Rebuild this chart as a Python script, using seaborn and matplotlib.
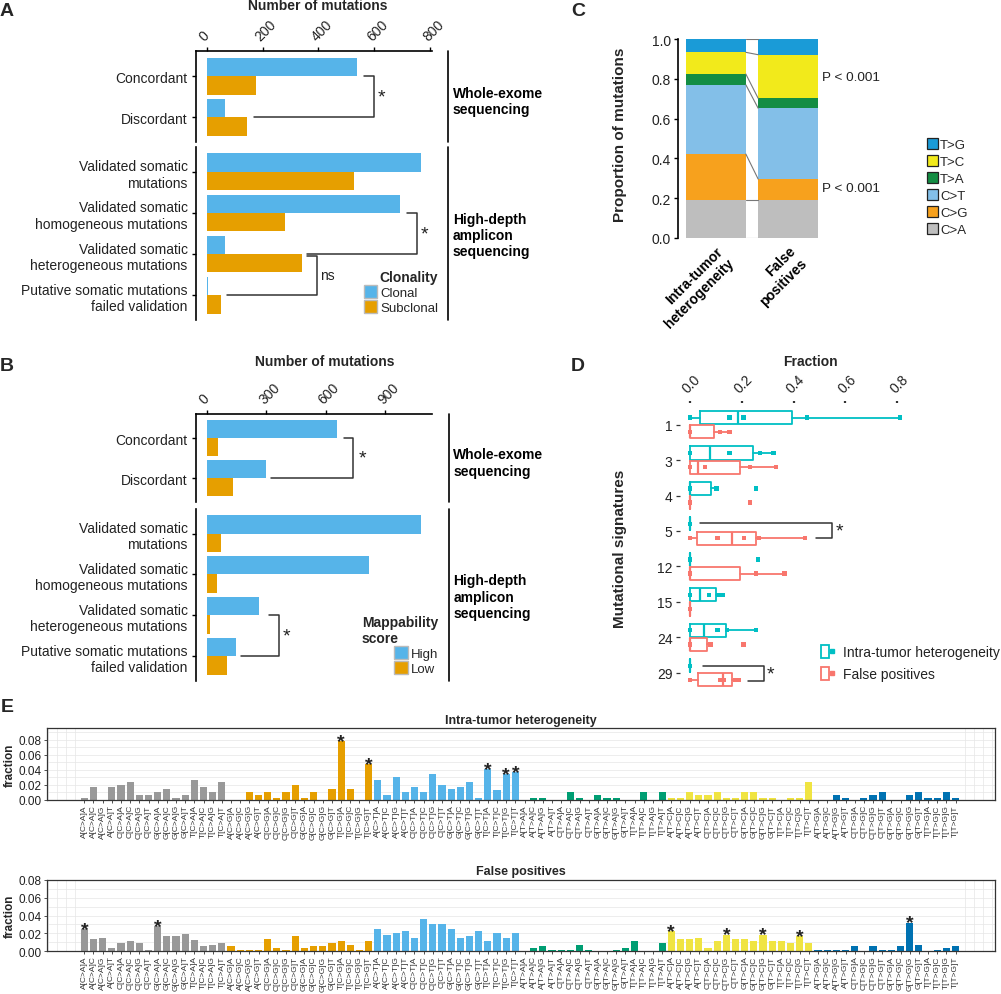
import numpy as np
import pandas as pd
import matplotlib
matplotlib.use("Agg")
import matplotlib.pyplot as plt
from matplotlib.patches import Patch
from matplotlib.lines import Line2D
from matplotlib.legend_handler import HandlerTuple
import seaborn as sns

# ---------------- data ----------------
# A / B : counts per category
wes_cats = ["Concordant", "Discordant"]
amp_cats = ["Validated somatic\nmutations",
            "Validated somatic\nhomogeneous mutations",
            "Validated somatic\nheterogeneous mutations",
            "Putative somatic mutations\nfailed validation"]
clonality = ["Clonal", "Subclonal"]
a_clonal = [537, 64, 767, 691, 67, 4]
a_subclonal = [177, 146, 528, 279, 341, 51]
mappability = ["High", "Low"]
b_high = [656, 298, 1083, 818, 264, 150]
b_low = [59, 133, 71, 54, 17, 104]

# C : mutation spectrum proportions
spectrum = ["C>A", "C>G", "C>T", "T>A", "T>C", "T>G"]
c_groups = ["Intra-tumor\nheterogeneity", "False\npositives"]
c_ith = [0.191, 0.231, 0.348, 0.054, 0.109, 0.067]
c_fp = [0.191, 0.105, 0.356, 0.050, 0.219, 0.079]

# D : signature fractions (box stats: whislo, q1, med, q3, whishi)
signatures = ["1", "3", "4", "5", "12", "15", "24", "29"]
d_groups = ["Intra-tumor heterogeneity", "False positives"]
d_ith_box = [(0, 0.039, 0.187, 0.395, 0.81), (0, 0, 0.077, 0.245, 0.329),
             (0, 0, 0, 0.08, 0.103), (0, 0, 0, 0, 0), (0, 0, 0, 0, 0),
             (0, 0, 0.039, 0.099, 0.129), (0, 0, 0.055, 0.139, 0.258), (0, 0, 0, 0, 0)]
d_fp_box = [(0, 0, 0, 0.093, 0.152), (0, 0, 0.030, 0.194, 0.335),
            (0, 0, 0, 0, 0), (0, 0.028, 0.164, 0.255, 0.445),
            (0, 0, 0, 0.194, 0.368), (0, 0, 0, 0, 0),
            (0, 0, 0, 0.065, 0.08), (0, 0.030, 0.129, 0.161, 0.191)]
d_ith_pts = [[0, 0.152, 0.206, 0.452, 0.81], [0, 0.152, 0.271, 0.323], [0, 0.103, 0.254],
             [0], [0, 0.262], [0, 0.074, 0.11, 0.126], [0, 0.107, 0.142, 0.254], [0]]
d_fp_pts = [[0, 0.116, 0.152], [0, 0.058, 0.232, 0.332], [0, 0.232],
            [0, 0.107, 0.209, 0.267, 0.443], [0, 0.254, 0.365], [0],
            [0, 0.08, 0.206], [0, 0.116, 0.129, 0.174, 0.187]]

# E : trinucleotide context fractions
contexts = [f"{l}[{mt}]{r}" for mt in spectrum for l in "ACGT" for r in "ACGT"]
ctx_type = [mt for mt in spectrum for _ in range(16)]
e_ith = [0.003, 0.017, 0.0, 0.017, 0.020, 0.024, 0.007, 0.007, 0.010, 0.014, 0.003, 0.007, 0.027, 0.017, 0.010, 0.024,
         0.0, 0.0, 0.010, 0.007, 0.010, 0.003, 0.010, 0.020, 0.003, 0.010, 0.0, 0.014, 0.078, 0.014, 0.0, 0.048,
         0.027, 0.007, 0.031, 0.010, 0.017, 0.010, 0.034, 0.020, 0.014, 0.017, 0.024, 0.003, 0.041, 0.013, 0.034, 0.037,
         0.0, 0.003, 0.003, 0.0, 0.0, 0.010, 0.003, 0.0, 0.007, 0.003, 0.003, 0.0, 0.0, 0.010, 0.0, 0.010,
         0.003, 0.003, 0.010, 0.007, 0.007, 0.010, 0.003, 0.003, 0.010, 0.010, 0.003, 0.003, 0.0, 0.003, 0.003, 0.024,
         0.0, 0.0, 0.007, 0.003, 0.0, 0.003, 0.007, 0.010, 0.0, 0.0, 0.007, 0.010, 0.003, 0.003, 0.010, 0.003]
e_fp = [0.0246, 0.0134, 0.0149, 0.0034, 0.009, 0.011, 0.009, 0.002, 0.028, 0.017, 0.017, 0.019, 0.013, 0.0056, 0.0075, 0.0093,
        0.0056, 0.0015, 0.0015, 0.0015, 0.0134, 0.0037, 0.0015, 0.0167, 0.0037, 0.0056, 0.0056, 0.0093, 0.011, 0.0075, 0.0015, 0.011,
        0.0246, 0.0186, 0.0205, 0.0227, 0.0149, 0.0357, 0.030, 0.030, 0.0246, 0.0149, 0.0167, 0.0227, 0.011, 0.0205, 0.0149, 0.0205,
        0.0, 0.0037, 0.0056, 0.0019, 0.0019, 0.0019, 0.0075, 0.0019, 0.0, 0.0, 0.0019, 0.0037, 0.011, 0.0, 0.0, 0.0093,
        0.0227, 0.0134, 0.0134, 0.0149, 0.0037, 0.011, 0.0186, 0.0134, 0.0134, 0.011, 0.0186, 0.011, 0.011, 0.0093, 0.0167, 0.0093,
        0.0019, 0.0019, 0.0019, 0.0019, 0.0056, 0.0, 0.0056, 0.0019, 0.0019, 0.0056, 0.032, 0.0075, 0.0, 0.0019, 0.0037, 0.0056]
e_ith_stars = ["T[C>G]A", "T[C>G]T", "T[C>T]A", "T[C>T]G", "T[C>T]T"]
e_fp_stars = ["A[C>A]A", "G[C>A]A", "A[T>C]A", "C[T>C]G", "G[T>C]G", "T[T>C]G", "G[T>G]G"]

# ---------------- style ----------------
sns.set_style("white")
plt.rcParams["font.family"] = ["Liberation Sans", "DejaVu Sans"]
TXT = "#222222"
BLUE, ORANGE = "#56B4E9", "#E69F00"
c_colors = ["#bebebe", "#f7a11d", "#83bfe8", "#138d43", "#f2ea1b", "#1a9bd7"]
e_colors = {"C>A": "#999999", "C>G": "#E69F00", "C>T": "#56B4E9",
            "T>A": "#009E73", "T>C": "#F0E442", "T>G": "#0072B2"}
d_colors = ["#00BFC4", "#F8766D"]

W, H = 1001, 995
fig = plt.figure(figsize=(W / 100, H / 100), dpi=100)


def add_ax(l, t, r, b):
    return fig.add_axes([l / W, 1 - b / H, (r - l) / W, (b - t) / H])


def ftext(x, y, s, **kw):
    return fig.text(x / W, 1 - y / H, s, **kw)


def bracket(ax, pts):
    xs, ys = zip(*pts)
    ax.plot(xs, ys, color="#333333", lw=1.1, clip_on=False, zorder=5)


# ---------------- A / B ----------------
def count_panel(top, bot, v1, v2, names, xticks):
    df = pd.DataFrame({"category": (wes_cats + amp_cats) * 2,
                       "group": [names[0]] * 6 + [names[1]] * 6,
                       "count": list(v1) + list(v2)})
    vmax = max(v1 + v2)
    for ax, cats in ((top, wes_cats), (bot, amp_cats)):
        sub = df[df["category"].isin(cats)]
        sns.barplot(data=sub, x="count", y="category", hue="group", order=cats,
                    hue_order=names, palette=[BLUE, ORANGE], orient="h", width=0.9,
                    saturation=1, errorbar=None, legend=False, linewidth=0, ax=ax)
        ax.set_xlim(-0.05 * vmax, 1.05 * vmax)
        ax.set_ylim(len(cats) - 0.4, -0.6)
        ax.set_xlabel("")
        ax.set_ylabel("")
        for s in ("right", "bottom", "top"):
            ax.spines[s].set_visible(False)
        ax.spines["left"].set_color("black")
        ax.spines["left"].set_linewidth(1.2)
        ax.tick_params(axis="y", length=3, width=1, color="black", pad=3,
                       labelsize=10, labelcolor=TXT, left=True)
        ax.tick_params(axis="x", bottom=False, labelbottom=False)
        ax.plot([1.07, 1.07], [0, 1], transform=ax.transAxes, color="black",
                lw=1.2, clip_on=False)
    top.spines["top"].set_visible(True)
    top.spines["top"].set_color("black")
    top.spines["top"].set_linewidth(1.2)
    top.xaxis.tick_top()
    top.set_xticks(xticks)
    top.set_xticklabels([str(t) for t in xticks], rotation=45, ha="left",
                        va="bottom", rotation_mode="anchor")
    top.tick_params(axis="x", top=True, labeltop=True, length=3, width=1,
                    color="black", labelsize=10, labelcolor=TXT, pad=3)
    top.text(1.091, 0.45, "Whole-exome\nsequencing", transform=top.transAxes,
             fontsize=10, fontweight="bold", ha="left", va="center", color="black")
    bot.text(1.091, 0.49, "High-depth\namplicon\nsequencing", transform=bot.transAxes,
             fontsize=10, fontweight="bold", ha="left", va="center", color="black")


axA1 = add_ax(196, 52.3, 431.5, 143.3)
axA2 = add_ax(196, 148.3, 431.5, 320.7)
count_panel(axA1, axA2, a_clonal, a_subclonal, clonality, [0, 200, 400, 600, 800])
bracket(axA1, [(563.6, 0), (599.4, 0), (599.4, 1), (169.6, 1)])
axA1.text(627, 0.5, "*", fontsize=14, ha="center", va="center", color="#222222")
bracket(axA2, [(718.8, 1), (752.2, 1), (752.2, 2), (360.6, 2)])
axA2.text(778.5, 1.5, "*", fontsize=14, ha="center", va="center", color="#222222")
bracket(axA2, [(360.6, 2.05), (396.4, 2.05), (396.4, 3), (71.6, 3)])
axA2.text(432, 2.5, "ns", fontsize=10, ha="center", va="center", color="#222222")
ftext(318, 6, "Number of mutations", fontsize=10, fontweight="bold", ha="center", va="center")
fig.legend([Patch(facecolor=BLUE, edgecolor="#bbbbbb"), Patch(facecolor=ORANGE, edgecolor="#bbbbbb")],
           clonality, title="Clonality", loc="lower right",
           bbox_to_anchor=(438 / W, 1 - 315 / H), frameon=False, fontsize=9.5,
           title_fontproperties={"weight": "bold", "size": 10}, alignment="right",
           handlelength=1.05, handleheight=1.05, handletextpad=0.2, labelspacing=0.1,
           borderpad=0, borderaxespad=0)

axB1 = add_ax(196, 415, 432, 503.3)
axB2 = add_ax(196, 510, 432, 681.7)
count_panel(axB1, axB2, b_high, b_low, mappability, [0, 300, 600, 900])
bracket(axB1, [(693, 0), (740, 0), (740, 1), (326, 1)])
axB1.text(786, 0.5, "*", fontsize=14, ha="center", va="center", color="#222222")
bracket(axB2, [(314.6, 2), (365, 2), (365, 3), (171.6, 3)])
axB2.text(403.8, 2.5, "*", fontsize=14, ha="center", va="center", color="#222222")
ftext(325, 362, "Number of mutations", fontsize=10, fontweight="bold", ha="center", va="center")
fig.legend([Patch(facecolor=BLUE, edgecolor="#bbbbbb"), Patch(facecolor=ORANGE, edgecolor="#bbbbbb")],
           mappability, title="Mappability\nscore", loc="lower right",
           bbox_to_anchor=(438 / W, 1 - 676 / H), frameon=False, fontsize=9.5,
           title_fontproperties={"weight": "bold", "size": 10}, alignment="right",
           handlelength=1.05, handleheight=1.05, handletextpad=0.2, labelspacing=0.1,
           borderpad=0, borderaxespad=0)

# ---------------- C ----------------
axC = add_ax(678, 40, 826, 239)
bw = 0.83
cum_ith = np.concatenate([[0], np.cumsum(c_ith)])
cum_fp = np.concatenate([[0], np.cumsum(c_fp)])
for k, name in enumerate(spectrum):
    axC.bar([0, 1], [c_ith[k], c_fp[k]], bottom=[cum_ith[k], cum_fp[k]], width=bw,
            color=c_colors[k], edgecolor="none", label=name)
for k in range(len(cum_ith)):
    axC.plot([bw / 2, 1 - bw / 2], [min(cum_ith[k], 1), min(cum_fp[k], 1)],
             color="#777777", lw=0.8)
axC.set_xlim(-0.52, 1.52)
axC.set_ylim(0, 1.0)
axC.set_yticks(np.arange(0, 1.01, 0.2))
axC.set_yticklabels([f"{t:.1f}" for t in np.arange(0, 1.01, 0.2)])
axC.set_xticks([0, 1])
axC.set_xticklabels(c_groups, rotation=45, ha="right", va="top",
                    rotation_mode="anchor", fontweight="bold", fontsize=10)
for s in ("right", "bottom", "top"):
    axC.spines[s].set_visible(False)
axC.spines["left"].set_color("black")
axC.spines["left"].set_linewidth(1.2)
axC.tick_params(axis="y", left=True, length=3, width=1, color="black",
                labelsize=10, labelcolor=TXT, pad=2)
axC.tick_params(axis="x", length=0, pad=4, labelcolor="black")
axC.text(1.47, 0.807, "P < 0.001", fontsize=9.7, ha="left", va="center", color=TXT)
axC.text(1.47, 0.25, "P < 0.001", fontsize=9.7, ha="left", va="center", color=TXT)
ftext(620, 135, "Proportion of mutations", fontsize=11, fontweight="bold",
      rotation=90, ha="center", va="center")
fig.legend([Patch(facecolor=c_colors[k], edgecolor="#222222", lw=0.9) for k in range(5, -1, -1)],
           spectrum[::-1], loc="upper left", bbox_to_anchor=(927 / W, 1 - 139 / H),
           frameon=False, fontsize=9.5, handlelength=0.85, handleheight=0.85,
           handletextpad=0.15, labelspacing=0.32, borderpad=0, borderaxespad=0)

# ---------------- D ----------------
axD = add_ax(679.6, 404.4, 910, 695)
rows = []
for i, sig in enumerate(signatures):
    for v in d_ith_pts[i]:
        rows.append((sig, d_groups[0], v))
    for v in d_fp_pts[i]:
        rows.append((sig, d_groups[1], v))
d_df = pd.DataFrame(rows, columns=["signature", "group", "fraction"])
sns.stripplot(data=d_df, x="fraction", y="signature", hue="group", order=signatures,
              hue_order=d_groups, palette=d_colors, dodge=True, jitter=False,
              marker="s", size=3.2, linewidth=0, legend=False, ax=axD, zorder=4)
for boxes, col, off in ((d_ith_box, d_colors[0], -0.2), (d_fp_box, d_colors[1], 0.2)):
    stats = [dict(whislo=b[0], q1=b[1], med=b[2], q3=b[3], whishi=b[4], fliers=[]) for b in boxes]
    axD.bxp(stats, positions=[i + off for i in range(len(signatures))], widths=0.37,
            orientation="horizontal", showfliers=False, showcaps=False, manage_ticks=False,
            boxprops=dict(color=col, lw=1.3), medianprops=dict(color=col, lw=1.6),
            whiskerprops=dict(color=col, lw=1.3))
axD.set_xlim(-0.04, 0.849)
axD.set_ylim(len(signatures) - 0.4, -0.6)
axD.set_xlabel("")
axD.set_ylabel("")
for s in axD.spines.values():
    s.set_visible(False)
axD.xaxis.tick_top()
dticks = [0, 0.2, 0.4, 0.6, 0.8]
axD.set_xticks(dticks)
axD.set_xticklabels([f"{t:.1f}" for t in dticks], rotation=45, ha="left",
                    va="bottom", rotation_mode="anchor")
axD.tick_params(axis="x", top=True, bottom=False, labeltop=True, labelbottom=False,
                length=1.2, width=1.6, color="#333333", labelsize=10, labelcolor=TXT, pad=5)
axD.tick_params(axis="y", left=True, length=3, width=0.9, color="#333333",
                labelsize=10, labelcolor=TXT, pad=2)
bracket(axD, [(0.039, 2.77), (0.548, 2.77), (0.548, 3.2), (0.488, 3.2)])
axD.text(0.578, 3.0, "*", fontsize=14, ha="center", va="center", color="#222222")
bracket(axD, [(0.052, 6.8), (0.284, 6.8), (0.284, 7.24), (0.223, 7.24)])
axD.text(0.31, 7.04, "*", fontsize=14, ha="center", va="center", color="#222222")
ftext(810, 362, "Fraction", fontsize=10, fontweight="bold", ha="center", va="center")
ftext(620, 549, "Mutational signatures", fontsize=11, fontweight="bold",
      rotation=90, ha="center", va="center")
d_handles = [(Patch(facecolor="white", edgecolor=c, lw=1.3),
              Line2D([], [], marker="s", color=c, ls="", ms=3.5)) for c in d_colors]
fig.legend(d_handles, d_groups, loc="upper left", bbox_to_anchor=(821 / W, 1 - 646 / H),
           frameon=False, fontsize=10, handlelength=1.1, handleheight=1.1,
           handletextpad=0.5, labelspacing=0.55, borderpad=0, borderaxespad=0,
           handler_map={tuple: HandlerTuple(ndivide=None)}, labelcolor=TXT)


# ---------------- E ----------------
def spectrum_panel(ax, values, stars, title, ymax):
    df = pd.DataFrame({"context": contexts, "fraction": values, "type": ctx_type})
    sns.barplot(data=df, x="context", y="fraction", hue="type", order=contexts,
                hue_order=spectrum, palette=e_colors, dodge=False, width=0.78,
                saturation=1, errorbar=None, legend=False, linewidth=0, ax=ax)
    for lab in stars:
        i = contexts.index(lab)
        ax.annotate("*", (i, values[i]), xytext=(0, -3.5), textcoords="offset points",
                    ha="center", va="baseline", fontsize=14, fontweight="bold",
                    color="#222222")
    ax.set_xlim(-4.1, 99.3)
    ax.set_ylim(0, ymax)
    ax.set_yticks([0, 0.02, 0.04, 0.06, 0.08])
    ax.set_yticklabels(["0.00", "0.02", "0.04", "0.06", "0.08"])
    ax.set_yticks(np.arange(0.01, ymax, 0.02), minor=True)
    ax.set_xticks(np.arange(-4, 100), minor=True)
    ax.set_axisbelow(True)
    ax.grid(which="minor", axis="x", color="#e6e6e6", lw=0.5)
    ax.grid(which="both", axis="y", color="#e6e6e6", lw=0.5)
    ax.tick_params(axis="x", which="major", rotation=90, labelsize=6, labelcolor="#333333",
                   length=2, width=0.6, color="#333333", pad=1, bottom=True)
    ax.tick_params(axis="y", which="major", labelsize=8.5, labelcolor=TXT, length=2,
                   width=0.6, color="#333333", pad=1.5, left=True)
    ax.tick_params(which="minor", length=0)
    ax.set_xlabel("")
    ax.set_ylabel("")
    for s in ax.spines.values():
        s.set_color("#333333")
        s.set_linewidth(0.9)
    ax.set_title(title, fontsize=9, fontweight="bold", pad=4)


axE1 = add_ax(46.7, 729.3, 995, 801)
spectrum_panel(axE1, e_ith, e_ith_stars, "Intra-tumor heterogeneity", 0.095)
axE2 = add_ax(46.7, 880.7, 995, 952.3)
spectrum_panel(axE2, e_fp, e_fp_stars, "False positives", 0.08)
ftext(10, 765, "fraction", fontsize=8.5, fontweight="bold", rotation=90, ha="center", va="center")
ftext(10, 916, "fraction", fontsize=8.5, fontweight="bold", rotation=90, ha="center", va="center")

# ---------------- panel letters ----------------
for lab, x, y in (("A", 7, 11), ("B", 7, 367), ("C", 578, 12), ("D", 578, 367), ("E", 7, 707)):
    ftext(x, y, lab, fontsize=14, fontweight="bold", ha="center", va="center")

fig.savefig("out.png", dpi=100)
